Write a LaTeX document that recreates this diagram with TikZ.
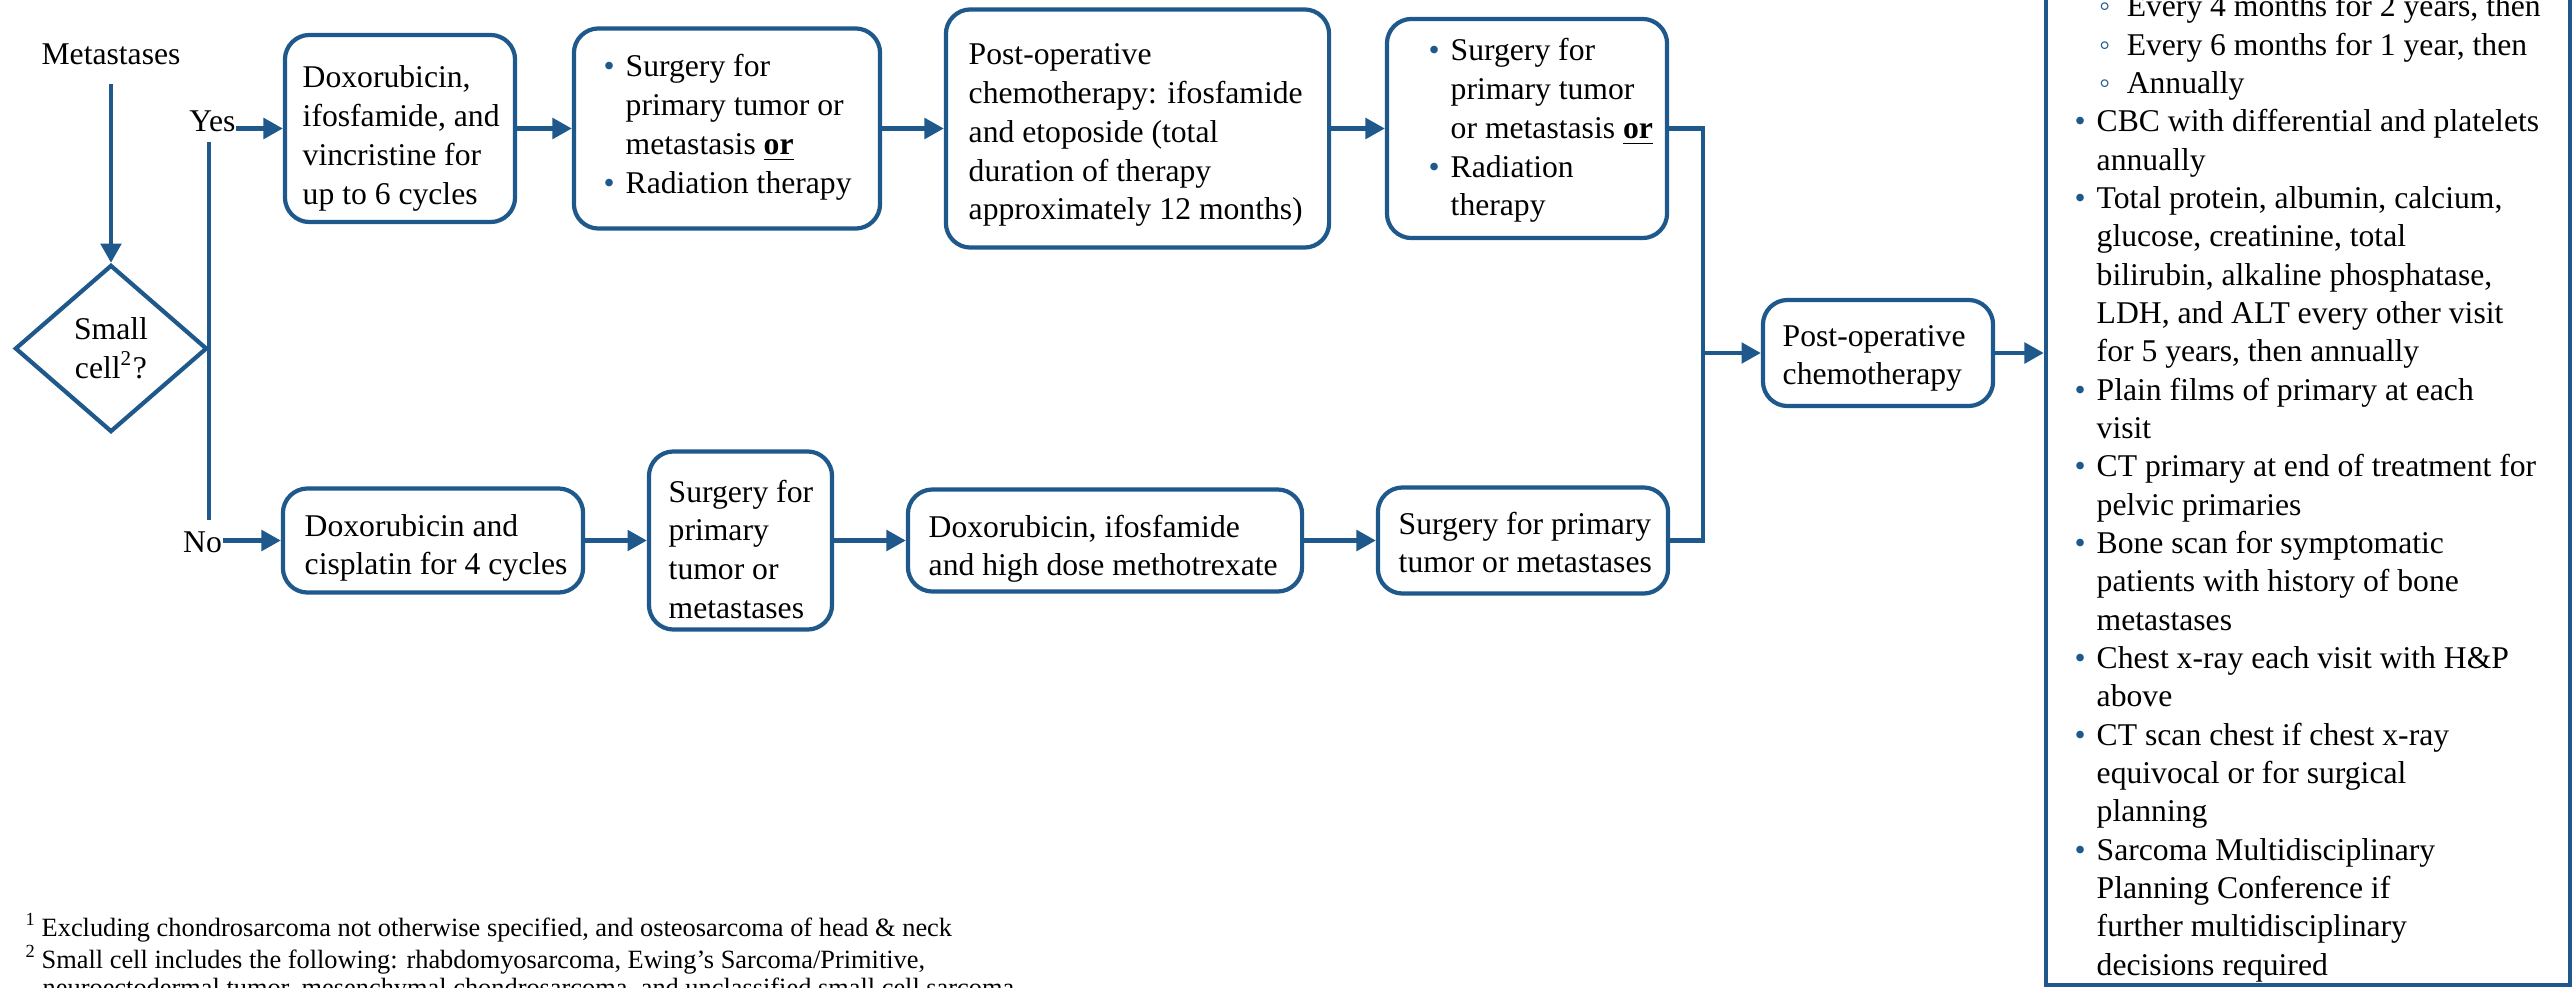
\documentclass[tikz,border=0pt]{standalone}
\usepackage{fontspec}
\setmainfont{Liberation Serif}
\usetikzlibrary{arrows.meta,shapes.geometric}
\definecolor{flow}{RGB}{31,89,140}
\newcommand\bodysize{\fontsize{9}{11}\selectfont}
\newcommand\listsize{\fontsize{9}{10.9}\selectfont}
\newcommand\notesize{\fontsize{7.5}{7.97}\selectfont}
% list markers hung to the left of the text
\newcommand\dotb{\makebox[0pt][r]{\textcolor{flow}{\textbullet}\hspace{0.11cm}}}
\newcommand\subb{\makebox[0pt][r]{\textcolor{flow}{◦}\hspace{0.165cm}}}
% a block of lines whose first baseline is the node's base
\newcommand\txtblock[1]{\parbox[t]{6cm}{\bodysize #1}}
\begin{document}
\begin{tikzpicture}[x=0.01cm, y=-0.01cm,
  flowline/.style={draw=flow, line width=1.2pt},
  arr/.style={flowline, -{Triangle[length=5.5pt,width=5.8pt]}},
  stepbox/.style={draw=flow, line width=1.2pt, rounded corners=7pt, inner sep=0pt},
  lbl/.style={inner sep=0pt, font=\bodysize},
  boxtext/.style={anchor=base west, inner sep=0pt}]

\useasboundingbox (0,0) rectangle (2573,988);
\clip (0,0) rectangle (2573,988);

% entry and decision
\node[lbl, anchor=base] (met) at (111,65) {Metastases};
\node[draw=flow, line width=1.2pt, diamond, minimum width=1.92cm, minimum height=1.67cm,
      inner sep=0pt, align=center, font=\bodysize] (dec) at (111,348.5) {Small\\cell\textsuperscript{2}?};
\draw[arr, shorten <=0.18cm] (met.south) -- (dec.north);

\node[lbl, anchor=base] (yeslbl) at (212.5,132) {Yes};
\node[lbl, anchor=base] (nolbl) at (202.5,552) {No};
\coordinate (vt) at (dec.east |- 0,142);
\coordinate (vb) at (dec.east |- 0,520);
\draw[flowline] (vt) -- (vb);

% small cell branch
\node[stepbox, minimum width=2.30cm, minimum height=1.87cm] (a) at (400,128.5) {};
\node[boxtext] (ta) at (302,88) {\txtblock{Doxorubicin,\\ifosfamide, and\\vincristine for\\up to 6 cycles}};

\node[stepbox, minimum width=3.06cm, minimum height=2.00cm] (b) at (727,128.5) {};
\node[boxtext] (tb) at (625,77) {\txtblock{\dotb Surgery for\\primary tumor or\\metastasis \underline{\textbf{or}}\\\dotb Radiation therapy}};

\node[stepbox, minimum width=3.83cm, minimum height=2.38cm] (c) at (1137.5,128.5) {};
\node[boxtext] (tc) at (968,65) {\txtblock{Post-operative\\chemotherapy: ifosfamide\\and etoposide (total\\duration of therapy\\approximately 12 months)}};

\node[stepbox, minimum width=2.80cm, minimum height=2.19cm] (d) at (1527,128.5) {};
\node[boxtext] (td) at (1450,61) {\txtblock{\dotb Surgery for\\primary tumor\\or metastasis \underline{\textbf{or}}\\\dotb Radiation\\therapy}};

% non small cell branch
\node[stepbox, minimum width=3.00cm, minimum height=1.04cm] (e) at (433,540.5) {};
\node[boxtext] (te) at (304,536) {\txtblock{Doxorubicin and\\cisplatin for 4 cycles}};

\node[stepbox, minimum width=1.83cm, minimum height=1.78cm] (f) at (740.5,540.5) {};
\node[boxtext] (tf) at (668,502) {\txtblock{Surgery for\\primary\\tumor or\\metastases}};

\node[stepbox, minimum width=3.94cm, minimum height=1.02cm] (g) at (1105,540.5) {};
\node[boxtext] (tg) at (928,537) {\txtblock{Doxorubicin, ifosfamide\\and high dose methotrexate}};

\node[stepbox, minimum width=2.90cm, minimum height=1.06cm] (h) at (1523,540.5) {};
\node[boxtext] (th) at (1398,534) {\txtblock{Surgery for primary\\tumor or metastases}};

% common continuation
\node[stepbox, minimum width=2.30cm, minimum height=1.06cm] (p) at (1878,353) {};
\node[boxtext] (tp) at (1782,346) {\txtblock{Post-operative\\chemotherapy}};

\node[draw=flow, line width=1.2pt, minimum width=5.24cm, minimum height=10.30cm, inner sep=0pt] (r) at (2308,470) {};
\node[boxtext] (tr) at (2096,17) {\parbox[t]{5cm}{\listsize
\hspace*{0.30cm}\subb Every 4 months for 2 years, then\\
\hspace*{0.30cm}\subb Every 6 months for 1 year, then\\
\hspace*{0.30cm}\subb Annually\\
\dotb CBC with differential and platelets\\
annually\\
\dotb Total protein, albumin, calcium,\\
glucose, creatinine, total\\
bilirubin, alkaline phosphatase,\\
LDH, and ALT every other visit\\
for 5 years, then annually\\
\dotb Plain films of primary at each\\
visit\\
\dotb CT primary at end of treatment for\\
pelvic primaries\\
\dotb Bone scan for symptomatic\\
patients with history of bone\\
metastases\\
\dotb Chest x-ray each visit with H\&P\\
above\\
\dotb CT scan chest if chest x-ray\\
equivocal or for surgical\\
planning\\
\dotb Sarcoma Multidisciplinary\\
Planning Conference if\\
further multidisciplinary\\
decisions required}};

% connectors
\draw[arr] (yeslbl.east |- a.west) -- (a.west);
\draw[arr] (a.east) -- (b.west);
\draw[arr] (b.east) -- (c.west);
\draw[arr] (c.east) -- (d.west);
\draw[arr] (nolbl.east |- e.west) -- (e.west);
\draw[arr] (e.east) -- (f.west);
\draw[arr] (f.east) -- (g.west);
\draw[arr] (g.east) -- (h.west);
\coordinate (jx) at (1703,128.5);
\draw[flowline] (d.east) -- (jx) -- (jx |- h.east) -- (h.east);
\draw[arr] (jx |- p.west) -- (p.west);
\draw[arr] (p.east) -- (p.east -| r.west);

% footnotes
\node[boxtext] (fn) at (25,936) {\parbox[t]{14cm}{\notesize
\textsuperscript{1}\hspace{0.05cm}Excluding chondrosarcoma not otherwise specified, and osteosarcoma of head \& neck\\
\textsuperscript{2}\hspace{0.05cm}Small cell includes the following: rhabdomyosarcoma, Ewing’s Sarcoma/Primitive,\\
\hspace*{0.17cm}neuroectodermal tumor, mesenchymal chondrosarcoma, and unclassified small cell sarcoma}};
\end{tikzpicture}
\end{document}
